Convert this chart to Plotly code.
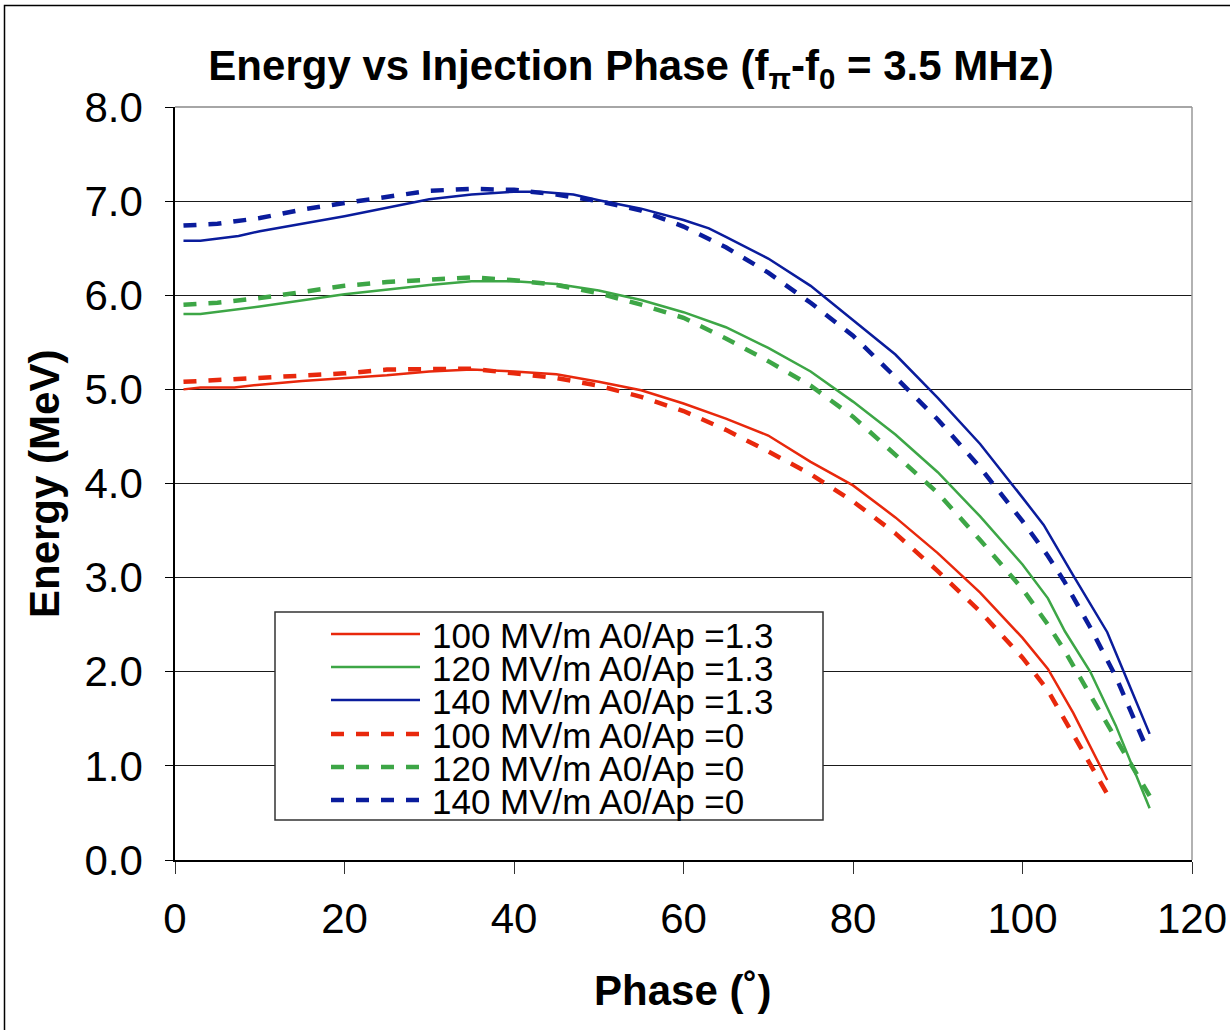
import plotly.graph_objects as go

# ---- data ----
red_solid_x = [1, 3, 7, 10, 15, 20, 25, 30, 35, 40, 45, 50, 55, 60, 65, 70, 75, 80, 85, 90, 95, 100, 103, 106, 108, 110]
red_solid_y = [5.00, 5.02, 5.02, 5.05, 5.09, 5.12, 5.15, 5.19, 5.21, 5.19, 5.16, 5.08, 4.99, 4.85, 4.69, 4.51, 4.23, 3.98, 3.64, 3.26, 2.84, 2.36, 2.03, 1.56, 1.20, 0.85]

red_dash_x = [1, 5, 10, 15, 20, 25, 30, 35, 40, 45, 50, 55, 60, 65, 70, 75, 80, 85, 90, 95, 100, 103, 106, 108.5, 110]
red_dash_y = [5.08, 5.10, 5.13, 5.15, 5.17, 5.21, 5.22, 5.22, 5.17, 5.12, 5.04, 4.92, 4.77, 4.57, 4.34, 4.10, 3.81, 3.47, 3.07, 2.64, 2.15, 1.80, 1.33, 0.95, 0.70]

green_solid_x = [1, 3, 10, 20, 30, 35, 40, 45, 50, 55, 60, 65, 70, 75, 80, 85, 90, 95, 100, 103, 105, 108, 111, 113, 115]
green_solid_y = [5.80, 5.80, 5.88, 6.01, 6.11, 6.15, 6.15, 6.12, 6.05, 5.95, 5.82, 5.66, 5.44, 5.19, 4.87, 4.52, 4.12, 3.65, 3.14, 2.78, 2.43, 2.00, 1.43, 0.98, 0.55]

green_dash_x = [1, 5, 10, 15, 20, 25, 30, 35, 40, 45, 50, 55, 60, 65, 70, 75, 80, 85, 90, 95, 100, 103, 105, 108, 111, 113.5, 115]
green_dash_y = [5.90, 5.92, 5.97, 6.03, 6.10, 6.14, 6.17, 6.19, 6.16, 6.11, 6.02, 5.90, 5.76, 5.54, 5.30, 5.04, 4.71, 4.31, 3.90, 3.40, 2.88, 2.50, 2.22, 1.75, 1.30, 0.92, 0.68]

blue_solid_x = [1, 3, 7.5, 10, 15, 20, 25, 30, 35, 40, 43, 47, 50, 55, 60, 63, 65, 70, 75, 80, 85, 90, 95, 100, 102.5, 106, 110, 112.5, 115]
blue_solid_y = [6.58, 6.58, 6.63, 6.68, 6.76, 6.84, 6.93, 7.02, 7.07, 7.10, 7.10, 7.07, 7.01, 6.92, 6.80, 6.71, 6.62, 6.39, 6.10, 5.73, 5.37, 4.91, 4.42, 3.85, 3.56, 3.02, 2.42, 1.88, 1.34]

blue_dash_x = [1, 5, 10, 15, 20, 25, 30, 35, 40, 45, 50, 55, 60, 65, 70, 75, 80, 85, 90, 95, 100, 103, 105, 108, 111, 114.5]
blue_dash_y = [6.74, 6.76, 6.82, 6.91, 6.98, 7.05, 7.11, 7.13, 7.12, 7.07, 7.00, 6.90, 6.73, 6.51, 6.24, 5.92, 5.57, 5.13, 4.68, 4.17, 3.60, 3.23, 2.95, 2.47, 1.95, 1.22]

series_names = ["100 MV/m A0/Ap =1.3", "120 MV/m A0/Ap =1.3", "140 MV/m A0/Ap =1.3",
                "100 MV/m A0/Ap =0", "120 MV/m A0/Ap =0", "140 MV/m A0/Ap =0"]

x_ticks = [0, 20, 40, 60, 80, 100, 120]
y_ticks = [0, 1, 2, 3, 4, 5, 6, 7, 8]
y_tick_labels = ["0.0", "1.0", "2.0", "3.0", "4.0", "5.0", "6.0", "7.0", "8.0"]

title_text = "<b>Energy vs Injection Phase (f<sub>π</sub>-f<sub>0</sub> = 3.5 MHz)</b>"
x_title = "<b>Phase (˚)</b>"
y_title = "<b>Energy (MeV)</b>"

RED = "#E8280C"
GREEN = "#3DA646"
BLUE = "#0A1C9C"
FONT = "Liberation Sans, Arial, sans-serif"
DASH = "13px,12px"

W, H = 1230, 1030
L, R, T, B = 175, 1192, 107, 860   # plot-area edges in pixels


def px_x(p):
    return (p - L) / (R - L)


def px_y(p):
    return (B - p) / (B - T)


fig = go.Figure()
styles = []
solid = [(red_solid_x, red_solid_y, RED), (green_solid_x, green_solid_y, GREEN), (blue_solid_x, blue_solid_y, BLUE)]
dashed = [(red_dash_x, red_dash_y, RED), (green_dash_x, green_dash_y, GREEN), (blue_dash_x, blue_dash_y, BLUE)]
for i, (xs, ys, c) in enumerate(solid):
    ln = dict(color=c, width=2.5)
    styles.append(ln)
    fig.add_trace(go.Scatter(x=xs, y=ys, mode="lines", name=series_names[i], line=ln, showlegend=False))
for i, (xs, ys, c) in enumerate(dashed):
    ln = dict(color=c, width=4.5, dash=DASH)
    styles.append(ln)
    fig.add_trace(go.Scatter(x=xs, y=ys, mode="lines", name=series_names[3 + i], line=ln, showlegend=False))

annotations = [
    dict(text=x_title, xref="paper", yref="paper", x=px_x(682), y=px_y(990),
         xanchor="center", yanchor="middle", showarrow=False,
         font=dict(size=42, family=FONT, color="black")),
    dict(text=y_title, xref="paper", yref="paper", x=px_x(44), y=px_y(484),
         xanchor="center", yanchor="middle", showarrow=False, textangle=-90,
         font=dict(size=42, family=FONT, color="black")),
]
shapes = []

# legend box (drawn in pixel positions)
LEG_L, LEG_R, LEG_T, LEG_B = 275, 823, 612, 820
shapes.append(dict(type="rect", xref="paper", yref="paper",
                   x0=px_x(LEG_L), x1=px_x(LEG_R), y0=px_y(LEG_B), y1=px_y(LEG_T),
                   line=dict(color="#333333", width=1.5), fillcolor="white", layer="above"))
row_y = [634, 667, 700, 734, 767, 800]
for name, ln, ry in zip(series_names, styles, row_y):
    shapes.append(dict(type="line", xref="paper", yref="paper",
                       x0=px_x(331), x1=px_x(420), y0=px_y(ry), y1=px_y(ry),
                       line=ln, layer="above"))
    annotations.append(dict(text=name, xref="paper", yref="paper", x=px_x(430), y=px_y(ry + 1),
                            xanchor="left", yanchor="middle", showarrow=False,
                            font=dict(size=35, family=FONT, color="black")))

# plot-area top/right border and outer frame
shapes.append(dict(type="line", xref="paper", yref="paper", x0=0, x1=1, y0=1, y1=1,
                   line=dict(color="#888888", width=1.5)))
shapes.append(dict(type="line", xref="paper", yref="paper", x0=1, x1=1, y0=0, y1=1,
                   line=dict(color="#999999", width=1.5)))
shapes.append(dict(type="rect", xref="paper", yref="paper",
                   x0=px_x(4.5), x1=px_x(1240), y0=px_y(1040), y1=px_y(5.5),
                   line=dict(color="black", width=1.5), fillcolor="rgba(0,0,0,0)", layer="below"))

fig.update_layout(
    width=W, height=H,
    margin=dict(l=L, r=W - R, t=T, b=H - B, autoexpand=False),
    paper_bgcolor="white", plot_bgcolor="white",
    font=dict(family=FONT, color="black"),
    title=dict(text=title_text, x=631 / W, xanchor="center", y=1 - 65 / H, yanchor="middle",
               font=dict(size=42, family=FONT, color="black")),
    xaxis=dict(range=[0, 120], tickvals=x_ticks, ticktext=[str(v) for v in x_ticks],
               automargin=False,
               showgrid=False, zeroline=False, showline=True, linecolor="black", linewidth=1.5,
               ticks="outside", ticklen=12, tickcolor="#333333", tickwidth=1,
               tickfont=dict(size=42, family=FONT), ticklabelstandoff=9),
    yaxis=dict(range=[0, 8], tickvals=y_ticks, ticktext=y_tick_labels,
               automargin=False,
               showgrid=True, gridcolor="#1a1a1a", gridwidth=1, zeroline=False,
               showline=True, linecolor="black", linewidth=1.5,
               ticks="outside", ticklen=8, tickcolor="black", tickwidth=1,
               tickfont=dict(size=42, family=FONT), ticklabelstandoff=14),
    showlegend=False,
    annotations=annotations,
    shapes=shapes,
)

fig.write_html("out.html", config={"displayModeBar": False},
               post_script="document.body.style.margin='0';document.body.style.padding='0';")
